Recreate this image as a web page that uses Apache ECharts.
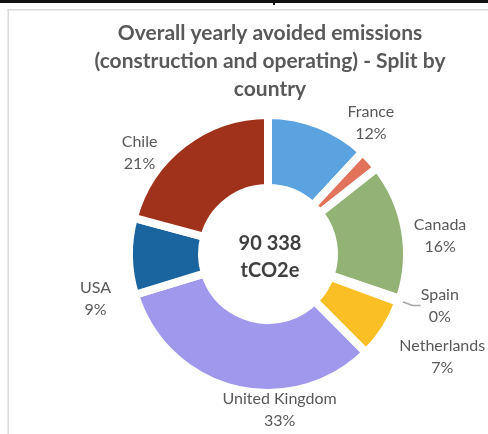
<!DOCTYPE html>
<html>
<head>
<meta charset="utf-8">
<script src="https://cdn.jsdelivr.net/npm/echarts@6/dist/echarts.min.js"></script>
<style>
  html, body { margin: 0; padding: 0; background: #fff; }
  #chart { width: 488px; height: 434px; }
</style>
</head>
<body>
<div id="chart"></div>
<script>
// Share of yearly avoided emissions by country (percent of total)
const countries = ['France', 'Other', 'Canada', 'Spain', 'Netherlands', 'United Kingdom', 'USA', 'Chile'];
const shares = [12, 2.5, 16, 0.4, 7, 33, 9, 21];
const sliceColors = ['#5BA3E0', '#E2735A', '#93B275', '#A5A5A5', '#F9BF24', '#9F98EC', '#1A65A0', '#A0321B'];
const hiddenLabels = ['Other'];
const totalEmissions = '90 338';
const totalUnit = 'tCO2e';
const titleText = 'Overall yearly avoided emissions\n(construction and operating) - Split by\ncountry';

// hand-placed label nudges (px) relative to the automatic outside placement
const labelNudge = {
  'France': [20, 8],
  'Canada': [-6, 7],
  'Spain': [3, 3],
  'Netherlands': [1, 22],
  'United Kingdom': [110, 11],
  'USA': [-3, 42],
  'Chile': [-15, 17]
};

const sum = shares.reduce((a, b) => a + b, 0);
const pct = v => Math.round(v / sum * 100) + '%';

const data = countries.map((name, i) => {
  const item = { name: name, value: shares[i], itemStyle: { color: sliceColors[i] } };
  if (hiddenLabels.includes(name)) {
    item.label = { show: false };
    item.labelLine = { show: false };
  }
  if (name === 'Spain') {
    item.labelLine = { show: true, length: 6, length2: 8, lineStyle: { color: '#A6A6A6', width: 1.5 } };
  }
  return item;
});

const chart = echarts.init(document.getElementById('chart'), null, { renderer: 'canvas' });
chart.setOption({
  animation: false,
  backgroundColor: '#fff',
  title: {
    text: titleText,
    left: 265,
    top: 14,
    textAlign: 'center',
    textStyle: {
      fontFamily: 'Lato',
      fontWeight: 'bold',
      fontSize: 21,
      lineHeight: 28,
      color: '#595959'
    }
  },
  graphic: [
    { type: 'rect', shape: { x: 0, y: 0, width: 488, height: 3 }, style: { fill: '#111' } },
    { type: 'rect', shape: { x: 273, y: 3, width: 2, height: 2 }, style: { fill: '#111' } },
    { type: 'rect', shape: { x: 7.5, y: 9, width: 481, height: 1.5 }, style: { fill: '#D9D9D9' } },
    { type: 'rect', shape: { x: 7.5, y: 9, width: 1.5, height: 425 }, style: { fill: '#D9D9D9' } },
    {
      type: 'text',
      x: 270, y: 257,
      style: {
        text: totalEmissions + '\n' + totalUnit,
        fontFamily: 'Lato',
        fontWeight: 'bold',
        fontSize: 20,
        lineHeight: 27,
        fill: '#404040',
        align: 'center',
        verticalAlign: 'middle'
      }
    }
  ],
  series: [{
    type: 'pie',
    center: [268, 254],
    radius: [66, 139],
    startAngle: 90,
    clockwise: true,
    avoidLabelOverlap: false,
    itemStyle: { borderColor: '#fff', borderWidth: 8 },
    label: {
      show: true,
      position: 'outside',
      formatter: p => p.name + '\n' + pct(p.value),
      fontFamily: 'Lato',
      fontSize: 16,
      lineHeight: 22,
      color: '#595959'
    },
    labelLine: { show: false, length: 10, length2: 0 },
    labelLayout: function (params) {
      const r = params.labelRect;
      const n = labelNudge[countries[params.dataIndex]] || [0, 0];
      return {
        x: r.x + r.width / 2 + n[0],
        y: r.y + r.height / 2 + n[1],
        align: 'center',
        verticalAlign: 'middle'
      };
    },
    emphasis: { disabled: true },
    data: data
  }]
});
</script>
</body>
</html>
